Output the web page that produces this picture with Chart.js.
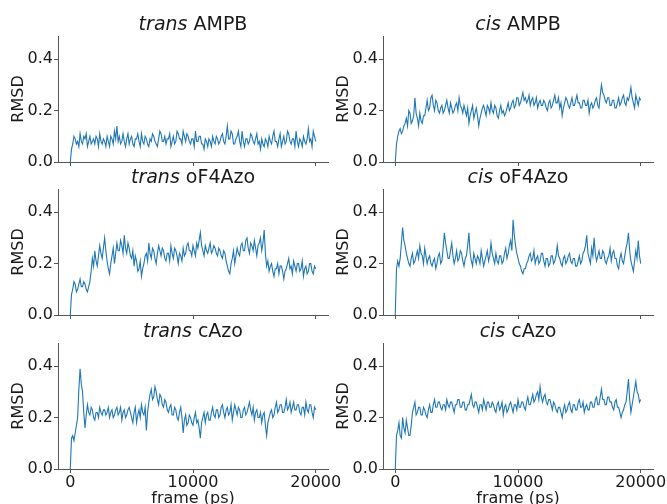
<!DOCTYPE html>
<html>
<head>
<meta charset="utf-8">
<script src="https://cdn.jsdelivr.net/npm/chart.js@4.4.0/dist/chart.umd.min.js"></script>
<style>
  html, body { margin: 0; padding: 0; background: #fff; overflow: hidden; }
  #page { position: relative; width: 667px; height: 504px; overflow: hidden; background: #fff; }
  #page canvas { position: absolute; }
</style>
</head>
<body>
<div id="page"></div>
<script>
// frame (ps)
const frames = [
  0, 100, 200, 300, 400, 500, 600, 700, 800, 900,
  1000, 1100, 1200, 1300, 1400, 1500, 1600, 1700, 1800, 1900,
  2000, 2100, 2200, 2300, 2400, 2500, 2600, 2700, 2800, 2900,
  3000, 3100, 3200, 3300, 3400, 3500, 3600, 3700, 3800, 3900,
  4000, 4100, 4200, 4300, 4400, 4500, 4600, 4700, 4800, 4900,
  5000, 5100, 5200, 5300, 5400, 5500, 5600, 5700, 5800, 5900,
  6000, 6100, 6200, 6300, 6400, 6500, 6600, 6700, 6800, 6900,
  7000, 7100, 7200, 7300, 7400, 7500, 7600, 7700, 7800, 7900,
  8000, 8100, 8200, 8300, 8400, 8500, 8600, 8700, 8800, 8900,
  9000, 9100, 9200, 9300, 9400, 9500, 9600, 9700, 9800, 9900,
  10000, 10100, 10200, 10300, 10400, 10500, 10600, 10700, 10800, 10900,
  11000, 11100, 11200, 11300, 11400, 11500, 11600, 11700, 11800, 11900,
  12000, 12100, 12200, 12300, 12400, 12500, 12600, 12700, 12800, 12900,
  13000, 13100, 13200, 13300, 13400, 13500, 13600, 13700, 13800, 13900,
  14000, 14100, 14200, 14300, 14400, 14500, 14600, 14700, 14800, 14900,
  15000, 15100, 15200, 15300, 15400, 15500, 15600, 15700, 15800, 15900,
  16000, 16100, 16200, 16300, 16400, 16500, 16600, 16700, 16800, 16900,
  17000, 17100, 17200, 17300, 17400, 17500, 17600, 17700, 17800, 17900,
  18000, 18100, 18200, 18300, 18400, 18500, 18600, 18700, 18800, 18900,
  19000, 19100, 19200, 19300, 19400, 19500, 19600, 19700, 19800, 19900,
  20000
];

// RMSD series
const transAMPB = [
  0.00, 0.05, 0.07, 0.10, 0.09, 0.07, 0.08, 0.06, 0.11, 0.08, 0.07, 0.10, 0.09, 0.11, 0.06, 0.08, 0.10, 0.07, 0.08, 0.09,
  0.07, 0.10, 0.09, 0.06, 0.11, 0.08, 0.07, 0.09, 0.08, 0.06, 0.10, 0.08, 0.06, 0.10, 0.09, 0.07, 0.12, 0.09, 0.14, 0.08,
  0.10, 0.07, 0.08, 0.11, 0.08, 0.06, 0.09, 0.11, 0.07, 0.09, 0.10, 0.07, 0.06, 0.09, 0.09, 0.11, 0.08, 0.06, 0.11, 0.08,
  0.07, 0.10, 0.09, 0.07, 0.06, 0.09, 0.08, 0.11, 0.10, 0.08, 0.07, 0.06, 0.09, 0.12, 0.11, 0.08, 0.08, 0.10, 0.07, 0.09,
  0.09, 0.11, 0.06, 0.08, 0.10, 0.07, 0.08, 0.12, 0.11, 0.09, 0.09, 0.07, 0.12, 0.10, 0.08, 0.11, 0.10, 0.08, 0.07, 0.09,
  0.09, 0.06, 0.12, 0.08, 0.08, 0.10, 0.10, 0.07, 0.07, 0.05, 0.09, 0.08, 0.06, 0.09, 0.08, 0.06, 0.10, 0.08, 0.07, 0.10,
  0.09, 0.07, 0.08, 0.10, 0.11, 0.08, 0.07, 0.10, 0.14, 0.09, 0.09, 0.12, 0.11, 0.07, 0.07, 0.09, 0.10, 0.12, 0.08, 0.06,
  0.12, 0.08, 0.06, 0.09, 0.09, 0.07, 0.08, 0.11, 0.10, 0.08, 0.07, 0.09, 0.11, 0.07, 0.08, 0.05, 0.09, 0.07, 0.06, 0.09,
  0.08, 0.06, 0.10, 0.08, 0.07, 0.10, 0.12, 0.08, 0.08, 0.06, 0.09, 0.11, 0.06, 0.08, 0.10, 0.07, 0.08, 0.12, 0.11, 0.08,
  0.07, 0.09, 0.09, 0.06, 0.12, 0.08, 0.06, 0.09, 0.08, 0.06, 0.10, 0.08, 0.07, 0.09, 0.13, 0.08, 0.09, 0.06, 0.12, 0.10,
  0.08
];
const cisAMPB = [
  0.00, 0.07, 0.10, 0.12, 0.13, 0.11, 0.12, 0.14, 0.15, 0.17, 0.14, 0.20, 0.19, 0.15, 0.16, 0.18, 0.25, 0.19, 0.17, 0.14,
  0.19, 0.16, 0.15, 0.18, 0.18, 0.21, 0.24, 0.20, 0.21, 0.25, 0.26, 0.22, 0.20, 0.24, 0.23, 0.20, 0.19, 0.21, 0.22, 0.19,
  0.20, 0.22, 0.24, 0.21, 0.19, 0.23, 0.21, 0.19, 0.20, 0.22, 0.23, 0.20, 0.25, 0.22, 0.21, 0.19, 0.22, 0.20, 0.18, 0.21,
  0.15, 0.18, 0.20, 0.22, 0.17, 0.19, 0.21, 0.18, 0.14, 0.17, 0.19, 0.21, 0.22, 0.20, 0.18, 0.22, 0.21, 0.19, 0.23, 0.20,
  0.19, 0.22, 0.21, 0.18, 0.17, 0.20, 0.22, 0.19, 0.20, 0.18, 0.19, 0.21, 0.23, 0.20, 0.21, 0.23, 0.24, 0.21, 0.22, 0.25,
  0.25, 0.22, 0.23, 0.25, 0.27, 0.24, 0.25, 0.23, 0.24, 0.26, 0.22, 0.24, 0.25, 0.22, 0.23, 0.25, 0.21, 0.23, 0.24, 0.22,
  0.22, 0.24, 0.23, 0.21, 0.20, 0.23, 0.24, 0.21, 0.22, 0.24, 0.26, 0.23, 0.23, 0.25, 0.21, 0.23, 0.18, 0.21, 0.23, 0.25,
  0.24, 0.22, 0.21, 0.23, 0.25, 0.22, 0.22, 0.24, 0.26, 0.23, 0.23, 0.21, 0.21, 0.24, 0.24, 0.22, 0.22, 0.24, 0.19, 0.22,
  0.23, 0.21, 0.22, 0.24, 0.25, 0.22, 0.21, 0.26, 0.30, 0.27, 0.26, 0.24, 0.23, 0.25, 0.25, 0.22, 0.22, 0.24, 0.24, 0.21,
  0.21, 0.23, 0.25, 0.22, 0.23, 0.25, 0.26, 0.23, 0.22, 0.25, 0.24, 0.26, 0.29, 0.25, 0.23, 0.21, 0.26, 0.24, 0.22, 0.25,
  0.24
];
const transOF4Azo = [
  0.00, 0.08, 0.10, 0.13, 0.12, 0.09, 0.10, 0.12, 0.14, 0.11, 0.11, 0.13, 0.12, 0.10, 0.09, 0.11, 0.13, 0.17, 0.22, 0.19,
  0.25, 0.21, 0.19, 0.23, 0.27, 0.24, 0.22, 0.26, 0.30, 0.25, 0.21, 0.18, 0.16, 0.20, 0.23, 0.26, 0.20, 0.24, 0.28, 0.25,
  0.25, 0.29, 0.27, 0.24, 0.31, 0.26, 0.24, 0.28, 0.26, 0.23, 0.22, 0.25, 0.19, 0.23, 0.21, 0.17, 0.18, 0.21, 0.15, 0.18,
  0.20, 0.23, 0.24, 0.21, 0.28, 0.24, 0.22, 0.26, 0.25, 0.22, 0.20, 0.24, 0.27, 0.25, 0.23, 0.26, 0.25, 0.22, 0.21, 0.24,
  0.24, 0.21, 0.27, 0.24, 0.22, 0.26, 0.25, 0.23, 0.20, 0.24, 0.23, 0.21, 0.26, 0.23, 0.24, 0.27, 0.28, 0.25, 0.25, 0.23,
  0.27, 0.25, 0.23, 0.28, 0.26, 0.29, 0.32, 0.27, 0.25, 0.23, 0.27, 0.25, 0.24, 0.26, 0.28, 0.24, 0.25, 0.27, 0.26, 0.24,
  0.23, 0.26, 0.25, 0.23, 0.22, 0.25, 0.24, 0.21, 0.19, 0.17, 0.16, 0.20, 0.22, 0.25, 0.20, 0.23, 0.26, 0.24, 0.23, 0.27,
  0.28, 0.25, 0.25, 0.29, 0.30, 0.26, 0.24, 0.28, 0.27, 0.25, 0.29, 0.26, 0.23, 0.27, 0.28, 0.30, 0.25, 0.28, 0.33, 0.24,
  0.19, 0.21, 0.17, 0.19, 0.20, 0.17, 0.15, 0.18, 0.18, 0.20, 0.16, 0.19, 0.19, 0.17, 0.14, 0.17, 0.18, 0.20, 0.22, 0.18,
  0.19, 0.16, 0.21, 0.19, 0.17, 0.20, 0.20, 0.17, 0.18, 0.21, 0.15, 0.18, 0.19, 0.16, 0.17, 0.20, 0.20, 0.17, 0.16, 0.19,
  0.18
];
const cisOF4Azo = [
  0.00, 0.18, 0.21, 0.19, 0.22, 0.28, 0.34, 0.29, 0.27, 0.24, 0.22, 0.20, 0.19, 0.22, 0.24, 0.20, 0.21, 0.23, 0.25, 0.22,
  0.27, 0.24, 0.23, 0.20, 0.26, 0.23, 0.20, 0.22, 0.23, 0.20, 0.19, 0.21, 0.22, 0.18, 0.20, 0.23, 0.24, 0.20, 0.21, 0.26,
  0.32, 0.28, 0.25, 0.22, 0.22, 0.25, 0.28, 0.23, 0.20, 0.22, 0.25, 0.21, 0.22, 0.25, 0.24, 0.21, 0.19, 0.22, 0.23, 0.27,
  0.32, 0.24, 0.21, 0.19, 0.24, 0.22, 0.20, 0.23, 0.22, 0.20, 0.25, 0.22, 0.19, 0.21, 0.23, 0.25, 0.21, 0.23, 0.28, 0.24,
  0.22, 0.20, 0.24, 0.21, 0.20, 0.23, 0.23, 0.20, 0.21, 0.24, 0.26, 0.22, 0.24, 0.27, 0.29, 0.25, 0.37, 0.31, 0.27, 0.24,
  0.22, 0.20, 0.19, 0.17, 0.16, 0.18, 0.18, 0.20, 0.21, 0.23, 0.24, 0.21, 0.22, 0.25, 0.20, 0.22, 0.23, 0.20, 0.21, 0.24,
  0.24, 0.21, 0.19, 0.22, 0.22, 0.19, 0.20, 0.23, 0.23, 0.20, 0.21, 0.23, 0.27, 0.23, 0.22, 0.20, 0.19, 0.22, 0.23, 0.20,
  0.21, 0.23, 0.24, 0.21, 0.20, 0.22, 0.22, 0.19, 0.19, 0.21, 0.23, 0.20, 0.21, 0.24, 0.25, 0.27, 0.31, 0.24, 0.22, 0.20,
  0.26, 0.23, 0.30, 0.24, 0.21, 0.23, 0.25, 0.22, 0.22, 0.25, 0.24, 0.21, 0.20, 0.22, 0.23, 0.26, 0.21, 0.24, 0.25, 0.22,
  0.22, 0.19, 0.18, 0.22, 0.24, 0.21, 0.20, 0.23, 0.26, 0.28, 0.32, 0.25, 0.21, 0.19, 0.17, 0.21, 0.25, 0.22, 0.29, 0.23,
  0.20
];
const transCAzo = [
  0.00, 0.12, 0.13, 0.11, 0.14, 0.17, 0.20, 0.31, 0.39, 0.33, 0.30, 0.22, 0.16, 0.21, 0.25, 0.22, 0.21, 0.24, 0.23, 0.20,
  0.19, 0.22, 0.22, 0.20, 0.24, 0.22, 0.21, 0.23, 0.23, 0.21, 0.22, 0.24, 0.20, 0.22, 0.23, 0.20, 0.21, 0.23, 0.24, 0.21,
  0.22, 0.24, 0.19, 0.22, 0.23, 0.20, 0.21, 0.23, 0.24, 0.22, 0.20, 0.18, 0.22, 0.24, 0.18, 0.21, 0.23, 0.20, 0.25, 0.22,
  0.21, 0.24, 0.15, 0.22, 0.26, 0.29, 0.31, 0.27, 0.28, 0.32, 0.30, 0.27, 0.25, 0.29, 0.28, 0.25, 0.24, 0.27, 0.26, 0.23,
  0.22, 0.24, 0.25, 0.21, 0.21, 0.24, 0.23, 0.20, 0.19, 0.22, 0.24, 0.20, 0.14, 0.19, 0.21, 0.17, 0.18, 0.21, 0.20, 0.18,
  0.17, 0.20, 0.22, 0.18, 0.19, 0.16, 0.12, 0.18, 0.20, 0.22, 0.18, 0.21, 0.22, 0.19, 0.19, 0.22, 0.24, 0.21, 0.20, 0.23,
  0.23, 0.20, 0.21, 0.24, 0.25, 0.22, 0.20, 0.23, 0.24, 0.21, 0.22, 0.25, 0.19, 0.22, 0.25, 0.23, 0.21, 0.24, 0.23, 0.20,
  0.20, 0.23, 0.24, 0.21, 0.22, 0.24, 0.26, 0.23, 0.21, 0.24, 0.19, 0.22, 0.23, 0.20, 0.20, 0.22, 0.18, 0.21, 0.22, 0.17,
  0.13, 0.18, 0.20, 0.22, 0.23, 0.20, 0.21, 0.24, 0.26, 0.22, 0.23, 0.25, 0.25, 0.22, 0.22, 0.24, 0.27, 0.23, 0.24, 0.26,
  0.22, 0.24, 0.26, 0.23, 0.23, 0.25, 0.25, 0.22, 0.21, 0.24, 0.24, 0.21, 0.26, 0.23, 0.22, 0.25, 0.25, 0.22, 0.20, 0.24,
  0.23
];
const cisCAzo = [
  0.00, 0.13, 0.15, 0.18, 0.13, 0.12, 0.20, 0.16, 0.14, 0.19, 0.16, 0.13, 0.13, 0.17, 0.22, 0.24, 0.26, 0.21, 0.22, 0.24,
  0.24, 0.21, 0.21, 0.24, 0.23, 0.21, 0.20, 0.23, 0.25, 0.22, 0.22, 0.25, 0.27, 0.24, 0.24, 0.26, 0.26, 0.24, 0.23, 0.25,
  0.25, 0.23, 0.27, 0.25, 0.24, 0.26, 0.26, 0.24, 0.22, 0.25, 0.25, 0.27, 0.27, 0.24, 0.24, 0.26, 0.26, 0.23, 0.23, 0.25,
  0.25, 0.27, 0.29, 0.25, 0.24, 0.26, 0.26, 0.24, 0.22, 0.25, 0.25, 0.23, 0.27, 0.25, 0.23, 0.26, 0.26, 0.24, 0.24, 0.26,
  0.25, 0.23, 0.22, 0.25, 0.26, 0.23, 0.24, 0.26, 0.21, 0.24, 0.25, 0.22, 0.23, 0.25, 0.26, 0.24, 0.22, 0.25, 0.25, 0.23,
  0.27, 0.24, 0.24, 0.26, 0.26, 0.24, 0.23, 0.26, 0.28, 0.25, 0.25, 0.27, 0.29, 0.26, 0.27, 0.29, 0.30, 0.27, 0.32, 0.28,
  0.26, 0.28, 0.29, 0.26, 0.25, 0.27, 0.27, 0.25, 0.23, 0.26, 0.25, 0.23, 0.22, 0.24, 0.24, 0.22, 0.20, 0.23, 0.25, 0.22,
  0.23, 0.25, 0.26, 0.23, 0.22, 0.25, 0.25, 0.23, 0.23, 0.26, 0.27, 0.24, 0.24, 0.26, 0.22, 0.24, 0.25, 0.23, 0.23, 0.26,
  0.26, 0.24, 0.24, 0.27, 0.28, 0.25, 0.25, 0.28, 0.31, 0.27, 0.27, 0.25, 0.25, 0.28, 0.28, 0.26, 0.26, 0.24, 0.23, 0.26,
  0.27, 0.24, 0.24, 0.22, 0.20, 0.22, 0.23, 0.25, 0.26, 0.30, 0.35, 0.27, 0.22, 0.25, 0.28, 0.31, 0.34, 0.30, 0.29, 0.26,
  0.27
];

const yTicks = [0, 0.2, 0.4];
const xTicks = [0, 10000, 20000];

const panels = [
  { iso: 'trans', name: 'AMPB',   values: transAMPB,   col: 0, row: 0 },
  { iso: 'cis',   name: 'AMPB',   values: cisAMPB,     col: 1, row: 0 },
  { iso: 'trans', name: 'oF4Azo', values: transOF4Azo, col: 0, row: 1 },
  { iso: 'cis',   name: 'oF4Azo', values: cisOF4Azo,   col: 1, row: 1 },
  { iso: 'trans', name: 'cAzo',   values: transCAzo,   col: 0, row: 2 },
  { iso: 'cis',   name: 'cAzo',   values: cisCAzo,     col: 1, row: 2 }
];

const FONT = '"DejaVu Sans", sans-serif';
const TEXT = '#1a1a1a';
const AXIS = '#555';
Chart.defaults.font.family = FONT;
Chart.defaults.color = TEXT;

// layout in page pixels
const colLeft = [0, 325];      // canvas left
const plotTop = [36, 189, 343];
const plotH = 126;
const yAxisW = 58;
const padTop = 36;
const padRight = 15;
const plotW = 270;

// title: italic isomer + upright compound name
const mixedTitle = {
  id: 'mixedTitle',
  afterDraw(chart, args, opts) {
    const { ctx, chartArea } = chart;
    const size = 19;
    const italic = 'italic ' + size + 'px ' + FONT;
    const upright = size + 'px ' + FONT;
    ctx.save();
    ctx.fillStyle = TEXT;
    ctx.textBaseline = 'alphabetic';
    ctx.textAlign = 'left';
    ctx.font = italic;
    const w1 = ctx.measureText(opts.iso + ' ').width;
    ctx.font = upright;
    const w2 = ctx.measureText(opts.name).width;
    const x = (chartArea.left + chartArea.right) / 2 - (w1 + w2) / 2;
    const y = chartArea.top - 6;
    ctx.font = italic;
    ctx.fillText(opts.iso, x, y);
    ctx.font = upright;
    ctx.fillText(opts.name, x + w1, y);
    ctx.restore();
  }
};

const page = document.getElementById('page');

panels.forEach(p => {
  const bottomRow = p.row === 2;
  const xAxisH = bottomRow ? 40 : 12;
  const canvas = document.createElement('canvas');
  canvas.width = yAxisW + plotW + padRight;
  canvas.height = padTop + plotH + xAxisH;
  canvas.style.left = colLeft[p.col] + 'px';
  canvas.style.top = (plotTop[p.row] - padTop) + 'px';
  page.appendChild(canvas);

  new Chart(canvas, {
    type: 'line',
    data: {
      datasets: [{
        data: frames.map((f, k) => ({ x: f, y: p.values[k] })),
        borderColor: '#1f77b4',
        borderWidth: 1.1,
        pointRadius: 0,
        tension: 0,
        fill: false
      }]
    },
    options: {
      responsive: false,
      animation: false,
      layout: { padding: { top: padTop, right: padRight, left: 0, bottom: 0 } },
      plugins: {
        legend: { display: false },
        tooltip: { enabled: false },
        mixedTitle: { iso: p.iso, name: p.name }
      },
      scales: {
        x: {
          type: 'linear',
          min: -1000,
          max: 21000,
          afterBuildTicks: s => { s.ticks = xTicks.map(v => ({ value: v })); },
          afterFit: s => { s.height = xAxisH; },
          grid: { display: true, drawOnChartArea: false, drawTicks: true, tickLength: 4, tickColor: AXIS },
          border: { display: true, color: AXIS, width: 1 },
          ticks: {
            display: bottomRow,
            padding: 0,
            maxRotation: 0,
            autoSkip: false,
            color: TEXT,
            font: { size: 16 },
            callback: v => String(v)
          },
          title: {
            display: bottomRow,
            text: 'frame (ps)',
            color: TEXT,
            font: { size: 16 },
            padding: { top: 0, bottom: 1 }
          }
        },
        y: {
          type: 'linear',
          min: 0,
          max: 0.49,
          afterBuildTicks: s => { s.ticks = yTicks.map(v => ({ value: v })); },
          afterFit: s => { s.width = yAxisW; },
          grid: { display: true, drawOnChartArea: false, drawTicks: true, tickLength: 4, tickColor: AXIS },
          border: { display: true, color: AXIS, width: 1 },
          ticks: {
            padding: 1,
            color: TEXT,
            font: { size: 16 },
            callback: v => v.toFixed(1)
          },
          title: {
            display: true,
            text: 'RMSD',
            color: TEXT,
            font: { size: 16 },
            padding: { top: 9, bottom: 0 }
          }
        }
      }
    },
    plugins: [mixedTitle]
  });
});
</script>
</body>
</html>
